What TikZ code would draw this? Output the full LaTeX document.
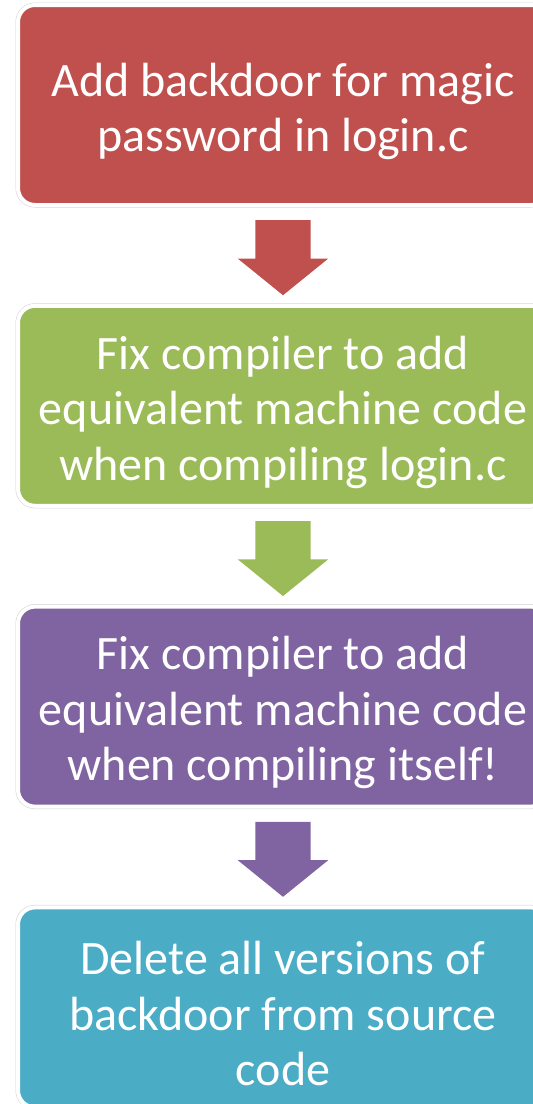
\documentclass[tikz,border=0pt]{standalone}
\usepackage{fontspec}
\setmainfont{Carlito}
\usetikzlibrary{calc,shapes.arrows}
\definecolor{stepred}{HTML}{C0504D}
\definecolor{stepgreen}{HTML}{9BBB59}
\definecolor{steppurple}{HTML}{8064A2}
\definecolor{stepblue}{HTML}{4BACC6}
% taller first line, so the text sits a little low in its box
\newcommand\steptop{\rule{0pt}{46pt}}
\begin{document}
\begin{tikzpicture}[
  x=1pt,y=1pt,
  stepbox/.style={rectangle,rounded corners=17pt,minimum width=530pt,
    minimum height=200pt,inner sep=0pt,align=center,text=white,
    font=\fontsize{48}{55.5}\selectfont,
    preaction={draw=black!18,line width=5pt},draw=white,line width=4pt},
  down/.style={single arrow,shape border rotate=270,draw=none,anchor=tail,
    minimum height=75pt,minimum width=90pt,inner xsep=27.5pt,inner ysep=0pt,
    single arrow head extend=17.5pt,single arrow tip angle=102}]
  \useasboundingbox (0,0) rectangle (533,-1104);
  % four steps, one pitch of 300.8pt apart
  \node[stepbox,fill=stepred] (backdoor) at (283,-105)
    {\steptop Add backdoor for magic\\password in login.c};
  \node[stepbox,fill=stepgreen] (login) at (283,-405.8)
    {\steptop Fix compiler to add\\equivalent machine code\\when compiling login.c};
  \node[stepbox,fill=steppurple] (itself) at (283,-706.6)
    {\steptop Fix compiler to add\\equivalent machine code\\when compiling itself!};
  \node[stepbox,fill=stepblue] (delete) at (283,-1007.4)
    {\steptop Delete all versions of\\backdoor from source\\code};
  % block arrows hang 13pt under each step
  \node[down,fill=stepred] (arrA) at ($(backdoor.south)+(0,-13)$) {};
  \node[down,fill=stepgreen] (arrB) at ($(login.south)+(0,-13)$) {};
  \node[down,fill=steppurple] (arrC) at ($(itself.south)+(0,-13)$) {};
\end{tikzpicture}
\end{document}
